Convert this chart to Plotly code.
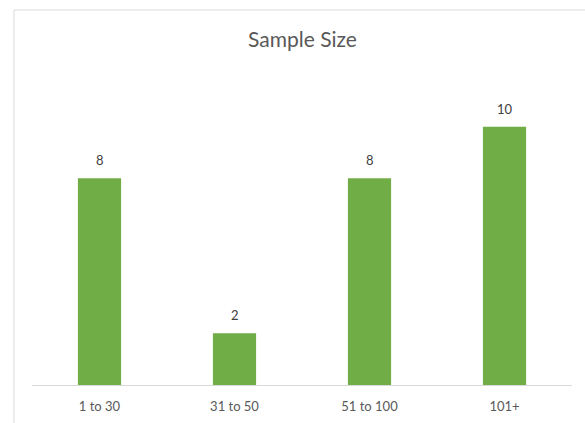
import plotly.graph_objects as go

categories = ["1 to 30", "31 to 50", "51 to 100", "101+"]
values = [8, 2, 8, 10]
title_text = "Sample Size"

FONT = "Lato, 'Noto Sans', sans-serif"
W, H = 585, 423
ml, mr, mt, mb = 32, 13, 75, 38
pw = W - ml - mr
ph = H - mt - mb

fig = go.Figure(go.Bar(
    x=categories, y=values,
    marker=dict(color="#70AD47", line=dict(width=0)),
    hoverinfo="x+y",
))

for c, v in zip(categories, values):
    fig.add_annotation(x=c, y=v, text=str(v), showarrow=False,
                       yanchor="bottom", yshift=8,
                       font=dict(family=FONT, size=13, color="#404040"))

def px_x(p):
    return (p - ml) / pw

def px_y(p):
    return (H - mb - p) / ph

# chart frame (clipped at right and bottom)
fig.add_shape(type="line", xref="paper", yref="paper",
              x0=px_x(14), x1=px_x(600), y0=px_y(10), y1=px_y(10),
              line=dict(color="#d9d9d9", width=1))
fig.add_shape(type="line", xref="paper", yref="paper",
              x0=px_x(14), x1=px_x(14), y0=px_y(10), y1=px_y(440),
              line=dict(color="#d9d9d9", width=1))

fig.update_layout(
    width=W, height=H,
    margin=dict(l=ml, r=mr, t=mt, b=mb, autoexpand=False),
    paper_bgcolor="white", plot_bgcolor="white",
    bargap=0.68,
    showlegend=False,
    title=dict(text=title_text, x=302.5 / W, xanchor="center",
               y=1 - 40 / H, yanchor="middle",
               font=dict(family=FONT, size=21, color="#595959")),
    xaxis=dict(showline=True, linecolor="#d9d9d9", linewidth=1,
               showgrid=False, ticks="", fixedrange=True, automargin=False,
               ticklabelstandoff=9,
               tickfont=dict(family=FONT, size=13, color="#595959")),
    yaxis=dict(range=[0, 12], visible=False, showgrid=False, fixedrange=True,
               automargin=False),
    font=dict(family=FONT),
)

fig.write_html("out.html")
